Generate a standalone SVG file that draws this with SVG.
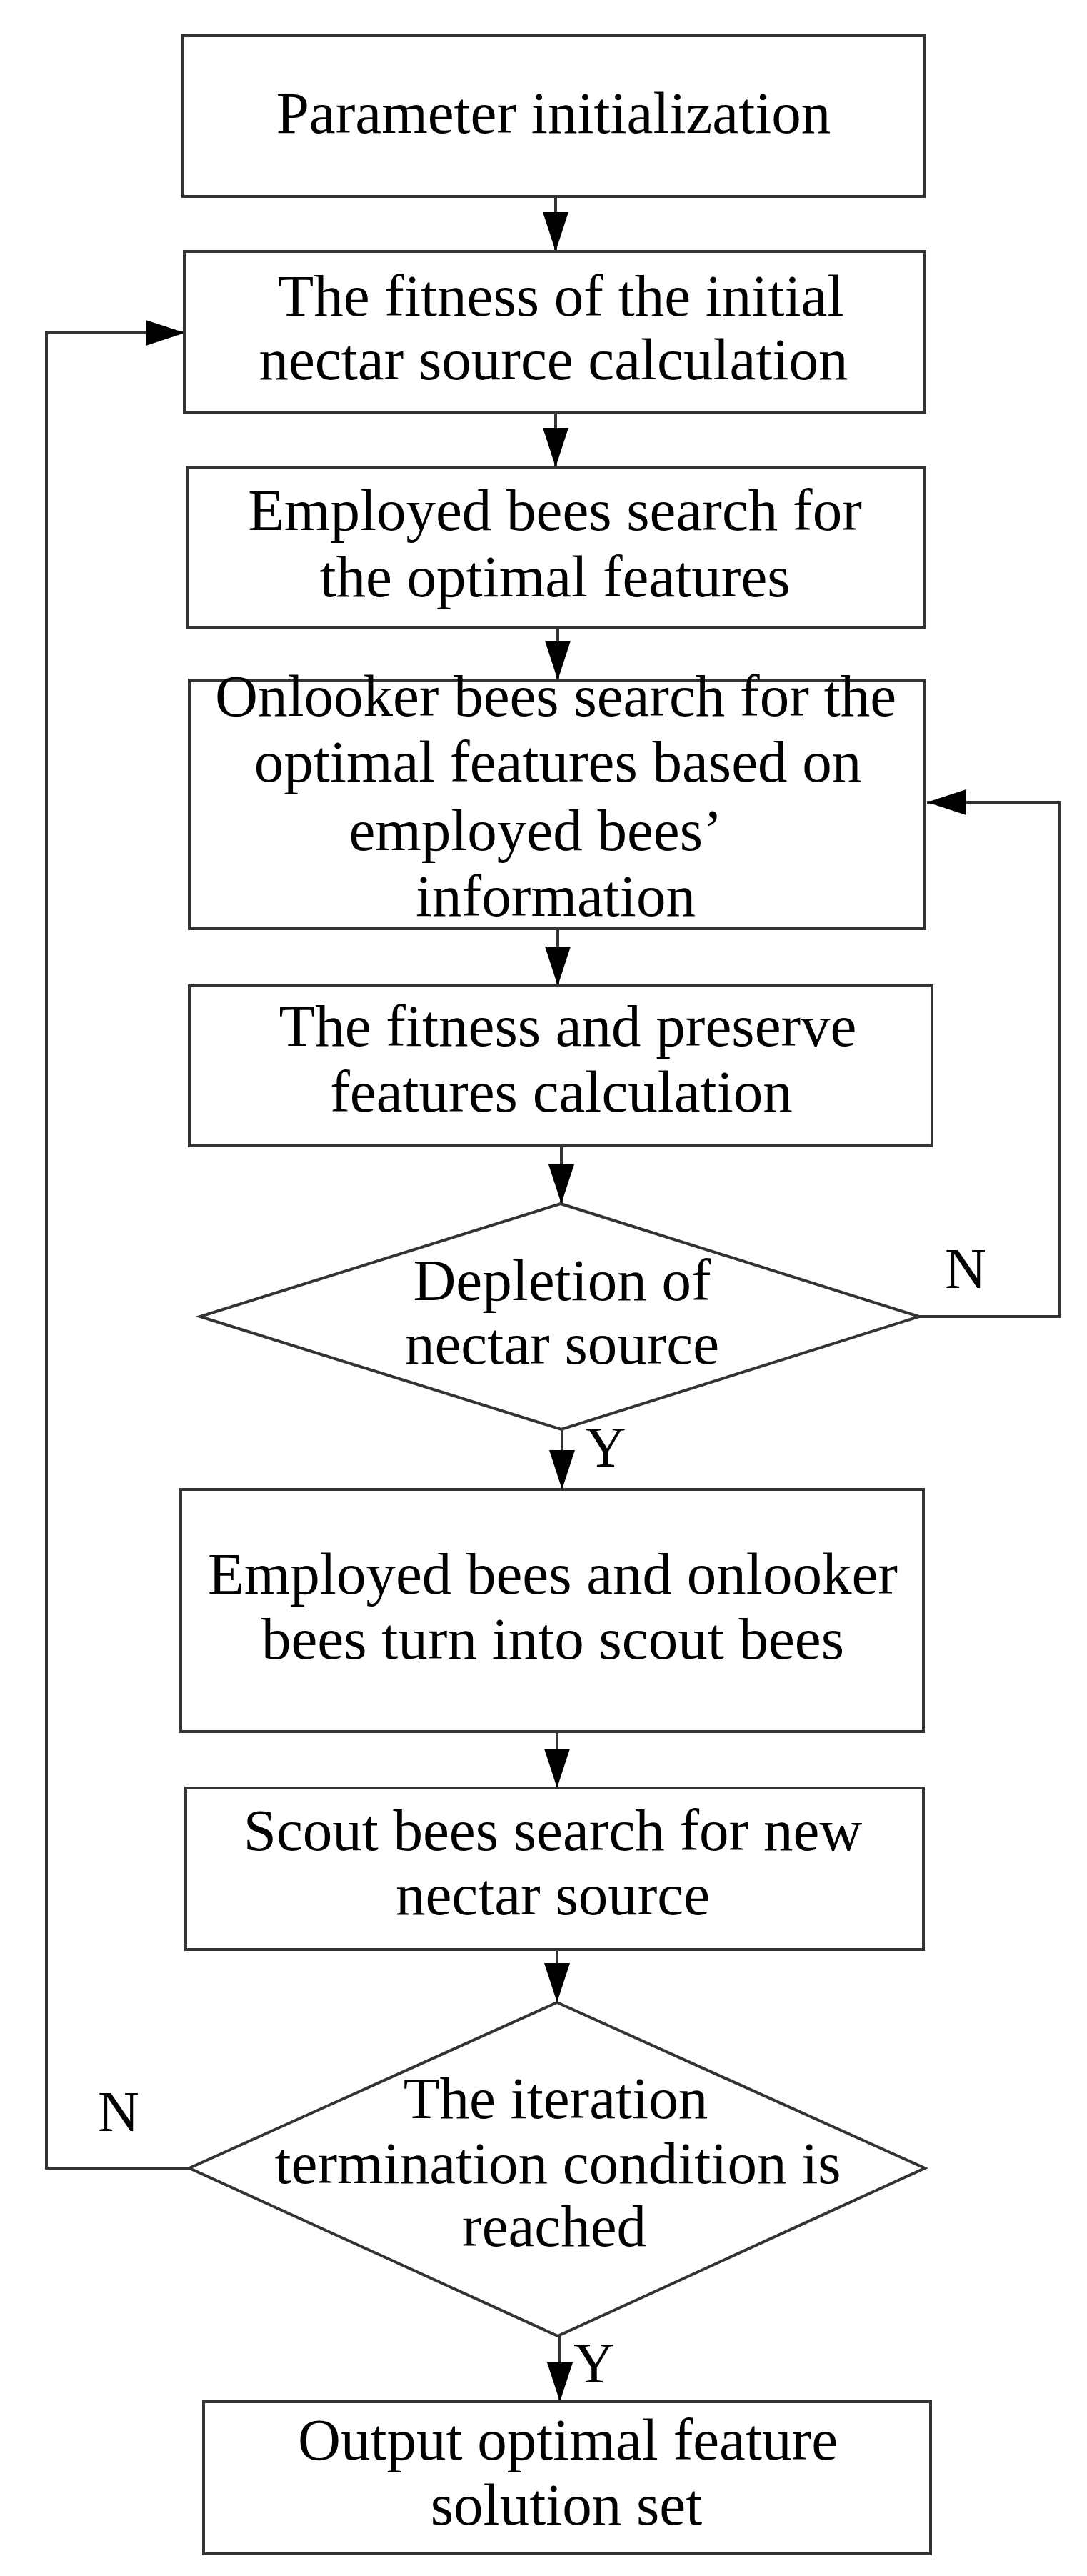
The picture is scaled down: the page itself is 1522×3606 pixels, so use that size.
<svg xmlns="http://www.w3.org/2000/svg" width="1522" height="3606" viewBox="0 0 1522 3606">
<style>
.box{fill:#fff;stroke:#333;stroke-width:4}
.t{font-family:"Liberation Serif","Times New Roman",serif;font-size:83px;fill:#000;text-anchor:middle}
.lbl{font-family:"Liberation Serif","Times New Roman",serif;font-size:80px;fill:#000;text-anchor:middle}
.c{fill:none;stroke:#333;stroke-width:4}
</style>
<defs>
<marker id="ah" markerUnits="userSpaceOnUse" markerWidth="56" markerHeight="38" refX="55" refY="19" orient="auto">
<path d="M0,1 L55,19 L0,37 Z" fill="#000"/>
</marker>
</defs>
<rect width="1522" height="3606" fill="#fff"/>
<g id="connectors">
<line class="c" x1="778" y1="275" x2="778" y2="352" marker-end="url(#ah)"/>
<line class="c" x1="778" y1="577" x2="778" y2="654" marker-end="url(#ah)"/>
<line class="c" x1="781" y1="878" x2="781" y2="952" marker-end="url(#ah)"/>
<line class="c" x1="781" y1="1300" x2="781" y2="1380" marker-end="url(#ah)"/>
<line class="c" x1="786" y1="1604" x2="786" y2="1685" marker-end="url(#ah)"/>
<line class="c" x1="787" y1="2001" x2="787" y2="2085" marker-end="url(#ah)"/>
<line class="c" x1="780" y1="2424" x2="780" y2="2503" marker-end="url(#ah)"/>
<line class="c" x1="780" y1="2729" x2="780" y2="2803" marker-end="url(#ah)"/>
<line class="c" x1="784" y1="3270" x2="784" y2="3362" marker-end="url(#ah)"/>
<polyline class="c" points="1287,1843 1484,1843 1484,1123 1298,1123" marker-end="url(#ah)"/>
<polyline class="c" points="265,3035 65,3035 65,466 259,466" marker-end="url(#ah)"/>
<text class="lbl" x="1352" y="1803">N</text>
<text class="lbl" x="848" y="2053">Y</text>
<text class="lbl" x="166" y="2983">N</text>
<text class="lbl" x="832" y="3335">Y</text>
</g>
<g id="n1">
<rect class="box" x="256" y="50" width="1038" height="225"/>
<text class="t" x="775" y="186">Parameter initialization</text>
</g>
<g id="n2">
<rect class="box" x="258" y="352" width="1037" height="225"/>
<text class="t" x="785" y="442">The fitness of the initial</text>
<text class="t" x="775" y="531">nectar source calculation</text>
</g>
<g id="n3">
<rect class="box" x="262" y="654" width="1033" height="224"/>
<text class="t" x="777" y="742">Employed bees search for</text>
<text class="t" x="777" y="835">the optimal features</text>
</g>
<g id="n4">
<rect class="box" x="265" y="952" width="1030" height="348"/>
<text class="t" x="778" y="1002">Onlooker bees search for the</text>
<text class="t" x="781" y="1094">optimal features based on</text>
<text class="t" x="750" y="1190">employed bees’</text>
<text class="t" x="778" y="1282">information</text>
</g>
<g id="n5">
<rect class="box" x="265" y="1380" width="1040" height="224"/>
<text class="t" x="795" y="1464">The fitness and preserve</text>
<text class="t" x="786" y="1556">features calculation</text>
</g>
<g id="d1">
<polygon class="box" points="785,1685 1287,1843 786,2001 280,1843"/>
<text class="t" x="787" y="1820">Depletion of</text>
<text class="t" x="787" y="1909">nectar source</text>
</g>
<g id="n6">
<rect class="box" x="253" y="2085" width="1040" height="339"/>
<text class="t" x="774" y="2231">Employed bees and onlooker</text>
<text class="t" x="774" y="2322">bees turn into scout bees</text>
</g>
<g id="n7">
<rect class="box" x="260" y="2503" width="1033" height="226"/>
<text class="t" x="774" y="2590">Scout bees search for new</text>
<text class="t" x="774" y="2680">nectar source</text>
</g>
<g id="d2">
<polygon class="box" points="780,2803 1295,3035 781,3270 265,3035"/>
<text class="t" x="778" y="2965">The iteration</text>
<text class="t" x="781" y="3056">termination condition is</text>
<text class="t" x="776" y="3144">reached</text>
</g>
<g id="n8">
<rect class="box" x="285" y="3362" width="1018" height="213"/>
<text class="t" x="795" y="3443">Output optimal feature</text>
<text class="t" x="793" y="3534">solution set</text>
</g>
</svg>
